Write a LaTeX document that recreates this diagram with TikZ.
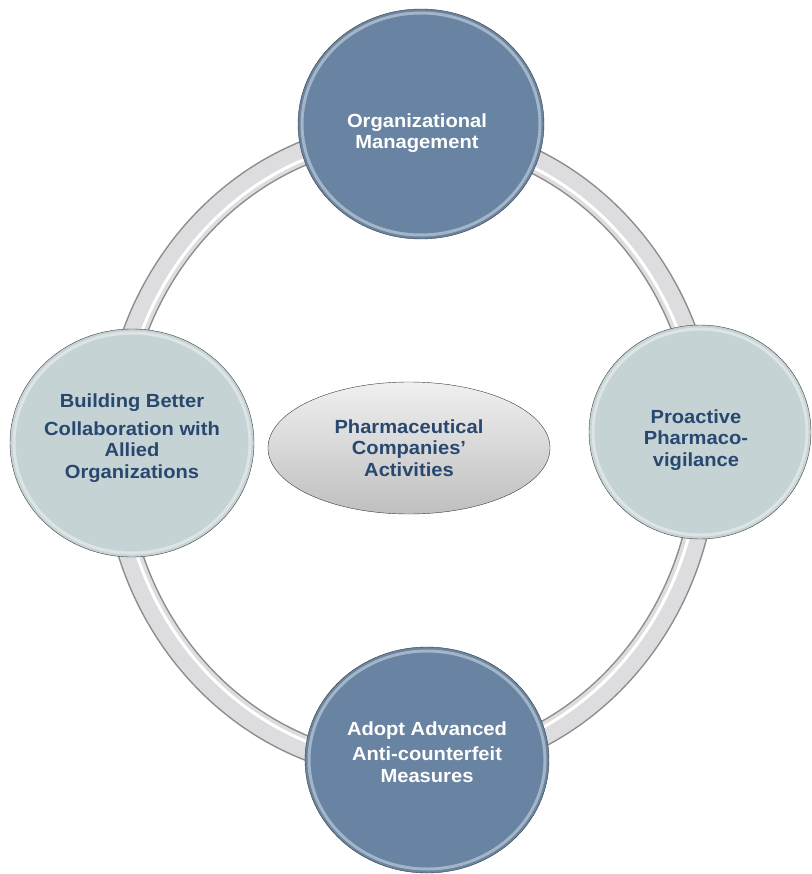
\documentclass[tikz,border=0pt]{standalone}
\usepackage{fontspec}
\setmainfont[FakeStretch=1.06]{Liberation Sans}
\usetikzlibrary{shapes.geometric}
\definecolor{steel}{RGB}{104,132,162}
\definecolor{mist}{RGB}{197,211,213}
\definecolor{ink}{RGB}{40,72,112}
\definecolor{band}{RGB}{221,221,223}

\begin{document}
\begin{tikzpicture}[x=1pt, y=-1pt, thick,
    dark/.style = {ellipse, draw=black!75, thin, fill=steel, inner sep=0pt},
    light/.style = {dark, fill=mist},
    hub/.style = {light, top color=gray!12, bottom color=gray!50},
    wtext/.style = {text=white, align=center, inner sep=0pt, font=\bfseries\fontsize{19}{21.5}\selectfont},
    btext/.style = {wtext, text=ink}]
\useasboundingbox (0,0) rectangle (811,874);

% ring behind the circles
\coordinate (c) at (410,450);
\draw[line width=25, black!45] (c) ellipse [x radius=296, y radius=318];
\draw[line width=22, band] (c) ellipse [x radius=296, y radius=318];
\draw[line width=3, white] (c) ellipse [x radius=290, y radius=312];

\node[dark, minimum width=246, minimum height=230,
    label={[wtext, xshift=-4pt, yshift=-9pt]center:Organizational\\Management}] (org) at (421,124) {};
\node[light, minimum width=244, minimum height=228,
    label={[btext, yshift=5pt]center:Building Better\\[6pt]Collaboration with\\Allied\\Organizations}] (collab) at (132,443) {};
\node[light, minimum width=222, minimum height=214,
    label={[btext, xshift=-4pt, yshift=-8pt]center:Proactive\\Pharmaco-\\vigilance}] (pv) at (700,432) {};
\node[dark, minimum width=244, minimum height=226,
    label={[wtext, yshift=8pt]center:Adopt Advanced\\[4pt]Anti-counterfeit\\Measures}] (anti) at (427,760) {};
\node[hub, minimum width=282, minimum height=132,
    label={[btext]center:Pharmaceutical\\Companies'\\Activities}] (hub) at (409,448) {};

% glossy rims
\foreach \n/\a/\b in {org/119/111, anti/118/109, collab/118/110, pv/107/103}
    \draw[white, opacity=.4, line width=3] (\n.center) ellipse [x radius=\a, y radius=\b];
\end{tikzpicture}
\end{document}
